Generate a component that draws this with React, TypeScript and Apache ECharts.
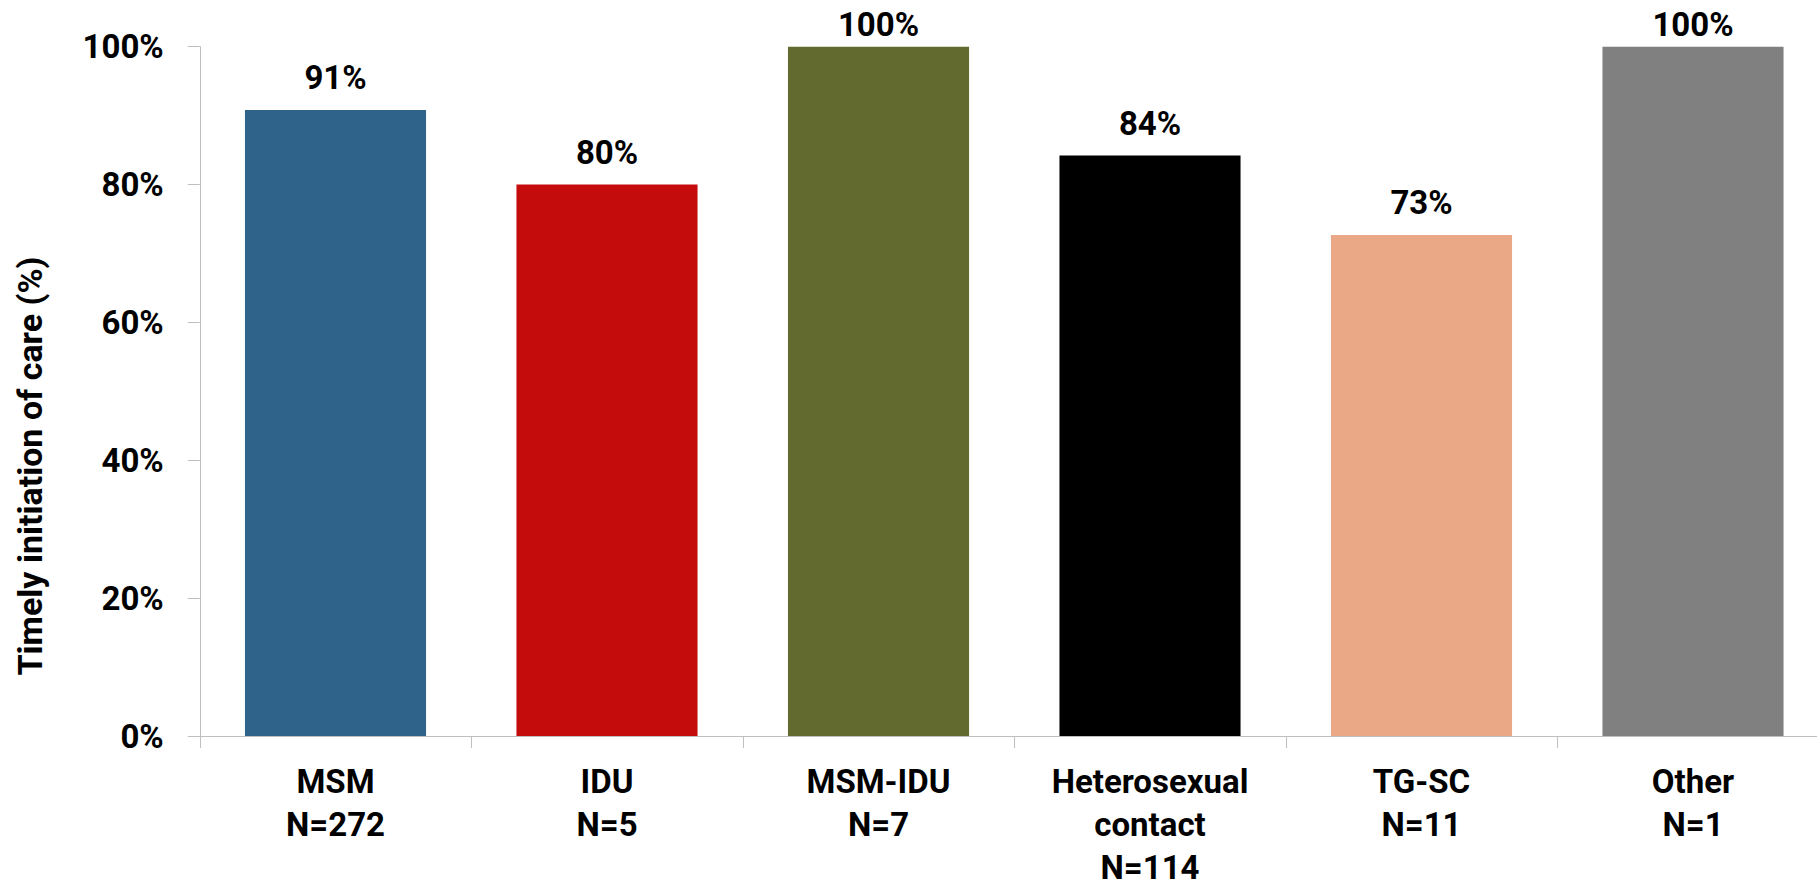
import React, { useEffect, useRef } from "react";
import * as echarts from "echarts";

const groups = ["MSM", "IDU", "MSM-IDU", "Heterosexual\ncontact", "TG-SC", "Other"];
const sampleSizes = [272, 5, 7, 114, 11, 1];
const timelyPct = [90.8, 80, 100, 84.2, 72.7, 100];
const barColors = ["#2F6389", "#C40C0C", "#636A2F", "#000000", "#EAA886", "#808080"];
const yTicks = [0, 20, 40, 60, 80, 100];
const yTitle = "Timely initiation of care (%)";

const FONT = "Roboto";

export default function App() {
  const ref = useRef<HTMLDivElement>(null);

  useEffect(() => {
    if (!ref.current) return;
    const chart = echarts.init(ref.current, undefined, { renderer: "svg" });
    const categories = groups.map((g, i) => `${g}\nN=${sampleSizes[i]}`);
    chart.setOption({
      animation: false,
      backgroundColor: "#ffffff",
      grid: {
        left: 199.75,
        right: 11.25,
        top: 46.7,
        bottom: 153,
        containLabel: false,
        outerBoundsMode: "none",
      },
      xAxis: {
        type: "category",
        data: categories,
        axisLine: { show: true, lineStyle: { color: "#BFBFBF", width: 1 } },
        axisTick: { show: true, length: 12, lineStyle: { color: "#BFBFBF", width: 1 } },
        axisLabel: {
          interval: 0,
          margin: 24,
          color: "#000000",
          fontFamily: FONT,
          fontWeight: "bold",
          fontSize: 33,
          lineHeight: 43,
        },
      },
      yAxis: {
        type: "value",
        min: yTicks[0],
        max: yTicks[yTicks.length - 1],
        interval: 20,
        splitLine: { show: false },
        axisLine: { show: true, lineStyle: { color: "#BFBFBF", width: 1 } },
        axisTick: { show: true, length: 12, lineStyle: { color: "#BFBFBF", width: 1 } },
        axisLabel: {
          margin: 36,
          formatter: "{value}%",
          color: "#000000",
          fontFamily: FONT,
          fontWeight: "bold",
          fontSize: 33,
        },
      },
      series: [
        {
          type: "bar",
          barCategoryGap: "33.3%",
          data: timelyPct.map((v, i) => ({
            value: v,
            itemStyle: { color: barColors[i] },
            label: { distance: v >= 100 ? 6 : 16 },
          })),
          label: {
            show: true,
            position: "top",
            formatter: (p: any) => `${Math.round(p.value)}%`,
            color: "#000000",
            fontFamily: FONT,
            fontWeight: "bold",
            fontSize: 33,
          },
        },
      ],
      graphic: [
        {
          type: "text",
          x: 30,
          y: 466,
          rotation: Math.PI / 2,
          style: {
            text: yTitle,
            fill: "#000000",
            font: `bold 34px ${FONT}`,
            textAlign: "center",
            textVerticalAlign: "middle",
          },
        },
      ],
    });
    return () => chart.dispose();
  }, []);

  return (
    <div style={{ position: "fixed", left: 0, top: 0, width: 1817, height: 889, overflow: "hidden", background: "#fff" }}>
      <div ref={ref} style={{ width: 1840, height: 889 }} />
    </div>
  );
}
